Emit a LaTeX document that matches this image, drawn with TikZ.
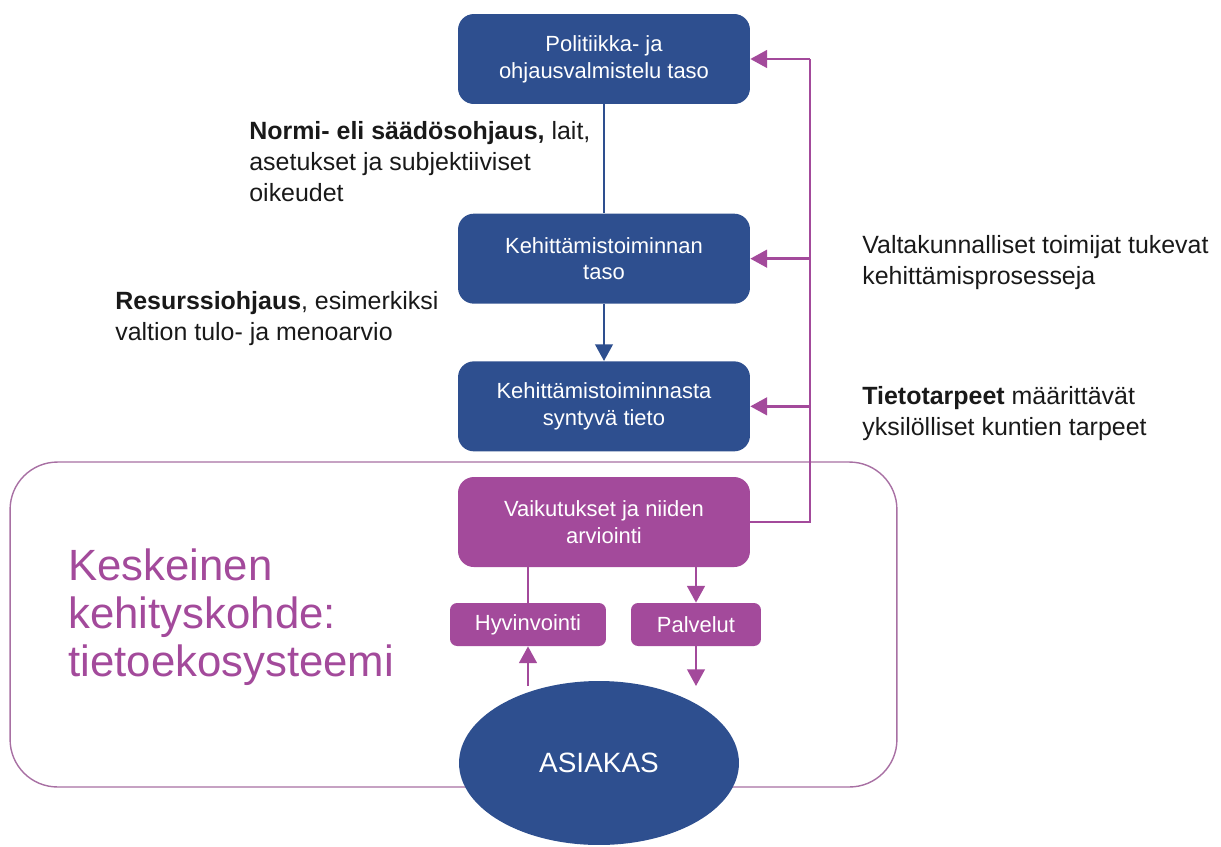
\documentclass[tikz,border=0pt]{standalone}
\usepackage{fontspec}
\setmainfont{Liberation Sans}
\usetikzlibrary{arrows.meta, positioning, shapes.geometric}
\definecolor{ohjblue}{RGB}{46,79,143}
\definecolor{vaikpurple}{RGB}{163,74,155}
\definecolor{framepurple}{RGB}{168,112,163}
\definecolor{textgray}{RGB}{25,25,25}

\begin{document}
\begin{tikzpicture}[
    x=0.02cm, y=-0.02cm,
    level/.style={rectangle, rounded corners=9pt, fill=ohjblue, text=white,
                  minimum width=5.84cm, minimum height=1.8cm, align=center,
                  font=\fontsize{12.5}{15.3}\selectfont},
    effect/.style={level, fill=vaikpurple},
    outcome/.style={rectangle, rounded corners=4pt, fill=vaikpurple, text=white,
                    minimum height=0.86cm, font=\fontsize{12.5}{15}\selectfont},
    note/.style={anchor=base west, inner sep=0pt, align=left, text=textgray,
                 font=\fontsize{14.2}{17.5}\selectfont},
    bline/.style={ohjblue, line width=1.4pt},
    barr/.style={bline, -{Triangle[length=9.5pt, width=10pt]}},
    pline/.style={vaikpurple, line width=1.4pt},
    parr/.style={pline, -{Triangle[length=9.5pt, width=10pt]}}
]
    \useasboundingbox (0,0) rectangle (1221,846);

    % focus area
    \node[draw=framepurple, line width=0.8pt, rounded corners=27pt,
          minimum width=17.74cm, minimum height=6.5cm] (kohde) at (453.5,624.5) {};
    \node[anchor=base west, inner sep=0pt, align=left, text=vaikpurple,
          font=\fontsize{24.9}{27.2}\selectfont] (kohdetxt) at (68,676)
          {Keskeinen\\kehityskohde:\\tietoekosysteemi};

    % steering levels
    \node[level] (pol) at (604,59) {Politiikka- ja\\ohjausvalmistelu taso};
    \node[level, below=2.18cm of pol] (keh) {Kehittämistoiminnan\\taso};
    \node[level, below=1.14cm of keh] (tieto) {Kehittämistoiminnasta\\syntyvä tieto};
    \node[effect, below=0.5cm of tieto] (vaik) {Vaikutukset ja niiden\\arviointi};

    \node[outcome, minimum width=3.12cm] (hyv) at (528,624.5) {Hyvinvointi};
    \node[outcome, minimum width=2.6cm] (palv) at (696,624.5) {Palvelut};
    \node[ellipse, fill=ohjblue, text=white, minimum width=5.6cm, minimum height=3.28cm,
          font=\fontsize{15.9}{18}\selectfont] (asiakas) at (599,763) {ASIAKAS};

    \coordinate (rail) at (810,59);
    \coordinate (hyvfoot) at (528,686);
    \coordinate (palvfoot) at (696,686);

    \draw[bline] (pol) -- (keh);
    \draw[barr] (keh) -- (tieto);

    \draw[pline] (vaik.east) -| (rail |- pol);
    \draw[parr] (rail |- pol) -- (pol);
    \draw[parr] (rail |- keh) -- (keh);
    \draw[parr] (rail |- tieto) -- (tieto);

    \draw[pline] (hyv) -- (hyv |- vaik.south);
    \draw[parr] (vaik.south -| palv) -- (palv);
    \draw[parr] (hyvfoot) -- (hyv);
    \draw[parr] (palv) -- (palvfoot);

    % guidance notes (base = last line)
    \node[note] (normi) at (249,201)
        {\textbf{Normi- eli säädösohjaus,} lait,\\asetukset ja subjektiiviset\\oikeudet};
    \node[note] (resurssi) at (115,340)
        {\textbf{Resurssiohjaus}, esimerkiksi\\valtion tulo- ja menoarvio};
    \node[note] (valtak) at (862,284)
        {Valtakunnalliset toimijat tukevat\\kehittämisprosesseja};
    \node[note] (tarpeet) at (862,435)
        {\textbf{Tietotarpeet} määrittävät\\yksilölliset kuntien tarpeet};
\end{tikzpicture}
\end{document}
